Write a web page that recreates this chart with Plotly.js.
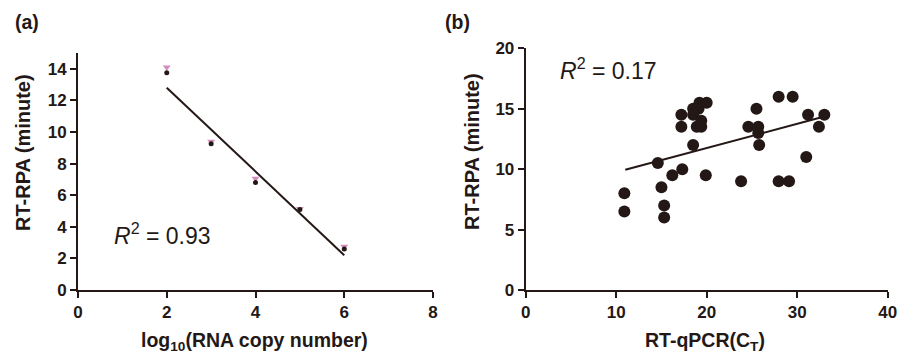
<!DOCTYPE html>
<html>
<head>
<meta charset="utf-8">
<script src="https://cdn.plot.ly/plotly-3.0.1.min.js"></script>
<style>html,body{margin:0;padding:0;background:#fff;}#chart{width:898px;height:356px;}</style>
</head>
<body>
<div id="chart"></div>
<script>
// Panel (a)
var copyLog = [2, 3, 4, 5, 6];
var rpaMeanA = [13.75, 9.25, 6.8, 5.1, 2.6];
var rpaUpperA = [14.1, 9.4, 7.05, 5.15, 2.75];
var fitAx = [2, 6];
var fitAy = [12.8, 2.2];
// Panel (b)
var ctValues = [10.9, 10.9, 14.6, 15.0, 15.3, 15.3, 16.2, 17.2, 17.2, 17.3,
                18.5, 19.1, 19.2, 20.0, 18.5, 19.4, 18.9, 19.4, 18.5, 19.9,
                23.8, 24.6, 25.5, 25.7, 25.7, 25.8, 27.95, 27.95, 29.1, 29.5,
                31.0, 31.2, 32.4, 33.0];
var rpaB = [8.0, 6.5, 10.5, 8.5, 7.0, 6.0, 9.5, 14.5, 13.5, 10.0,
            15.0, 15.0, 15.5, 15.5, 14.5, 14.0, 13.5, 13.5, 12.0, 9.5,
            9.0, 13.5, 15.0, 13.5, 13.0, 12.0, 16.0, 9.0, 9.0, 16.0,
            11.0, 14.5, 13.5, 14.5];
var fitBx = [11, 33];
var fitBy = [9.95, 14.35];
var ticksA = [0, 2, 4, 6, 8];
var yticksA = [0, 2, 4, 6, 8, 10, 12, 14];
var ticksB = [0, 10, 20, 30, 40];
var yticksB = [0, 5, 10, 15, 20];

var FONT = "Arial, 'Liberation Sans', sans-serif";
var INK = '#231815';

var traces = [
  {x: fitAx, y: fitAy, xaxis: 'x', yaxis: 'y', mode: 'lines', line: {color: INK, width: 2}, hoverinfo: 'skip'},
  {x: copyLog, y: rpaUpperA, xaxis: 'x', yaxis: 'y', mode: 'markers',
   marker: {symbol: 'triangle-down', size: 7, color: '#d58cbc'}},
  {x: copyLog, y: rpaMeanA, xaxis: 'x', yaxis: 'y', mode: 'markers',
   marker: {symbol: 'circle', size: 5, color: INK}},
  {x: fitBx, y: fitBy, xaxis: 'x2', yaxis: 'y2', mode: 'lines', line: {color: INK, width: 2}, hoverinfo: 'skip'},
  {x: ctValues, y: rpaB, xaxis: 'x2', yaxis: 'y2', mode: 'markers',
   marker: {symbol: 'circle', size: 12, color: INK}}
];

function axis(domain, range, tickvals, anchor) {
  return {
    domain: domain, range: range, tickvals: tickvals, anchor: anchor,
    showgrid: false, zeroline: false, showline: true, linecolor: INK, linewidth: 2,
    ticks: 'outside', ticklen: 6, tickwidth: 2, tickcolor: INK,
    tickfont: {family: FONT, size: 17, color: INK, weight: 'bold'}
  };
}

var titleFont = {family: FONT, size: 19.5, color: INK, weight: 'bold'};
var yTitleFont = {family: FONT, size: 20, color: INK, weight: 'bold'};
var rFont = {family: FONT, size: 23, color: INK};

var layout = {
  width: 898, height: 356,
  margin: {l: 0, r: 0, t: 0, b: 0},
  paper_bgcolor: '#fff', plot_bgcolor: '#fff',
  showlegend: false,
  xaxis: axis([78/898, 433/898], [0, 8], ticksA, 'y'),
  yaxis: axis([1 - 290/356, 1 - 53/356], [0, 15], yticksA, 'x'),
  xaxis2: axis([525.7/898, 887.7/898], [0, 40], ticksB, 'y2'),
  yaxis2: axis([1 - 290/356, 1 - 48.3/356], [0, 20], yticksB, 'x2'),
  annotations: [
    {text: '(a)', x: 13/898, y: 1 - 22/356, xref: 'paper', yref: 'paper', xanchor: 'left', yanchor: 'middle', showarrow: false, font: titleFont},
    {text: '(b)', x: 443/898, y: 1 - 22/356, xref: 'paper', yref: 'paper', xanchor: 'left', yanchor: 'middle', showarrow: false, font: titleFont},
    {text: 'log<sub>10</sub>(RNA copy number)', x: 254/898, y: 1 - 341/356, xref: 'paper', yref: 'paper', xanchor: 'center', yanchor: 'middle', showarrow: false, font: titleFont},
    {text: 'RT-qPCR(C<sub>T</sub>)', x: 705/898, y: 1 - 341/356, xref: 'paper', yref: 'paper', xanchor: 'center', yanchor: 'middle', showarrow: false, font: titleFont},
    {text: 'RT-RPA (minute)', x: 23/898, y: 1 - 153/356, xref: 'paper', yref: 'paper', xanchor: 'center', yanchor: 'middle', textangle: -90, showarrow: false, font: yTitleFont},
    {text: 'RT-RPA (minute)', x: 472/898, y: 1 - 152/356, xref: 'paper', yref: 'paper', xanchor: 'center', yanchor: 'middle', textangle: -90, showarrow: false, font: yTitleFont},
    {text: '<i>R</i><sup>2</sup> = 0.93', x: 162/898, y: 1 - 234/356, xref: 'paper', yref: 'paper', xanchor: 'center', yanchor: 'middle', showarrow: false, font: rFont},
    {text: '<i>R</i><sup>2</sup> = 0.17', x: 608/898, y: 1 - 69/356, xref: 'paper', yref: 'paper', xanchor: 'center', yanchor: 'middle', showarrow: false, font: rFont}
  ]
};

Plotly.newPlot('chart', traces, layout, {displayModeBar: false, staticPlot: true});
</script>
</body>
</html>
